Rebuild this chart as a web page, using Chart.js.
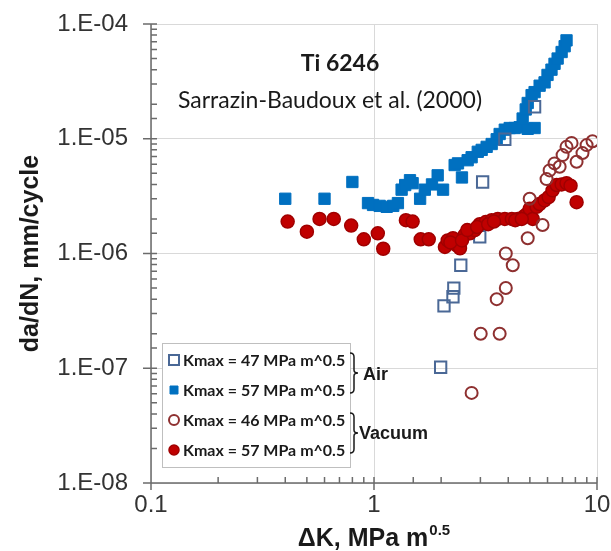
<!DOCTYPE html>
<html>
<head>
<meta charset="utf-8">
<title>Ti 6246 crack growth rate</title>
<style>
  body { margin: 0; background: #fff; }
  #chart { display: block; }
</style>
</head>
<body>
<canvas id="chart" width="611" height="551"></canvas>

<script src="https://cdn.jsdelivr.net/npm/chart.js@4.4.0/dist/chart.umd.min.js"></script>
<script>
// values: delta K (MPa m^0.5) and da/dN (mm/cycle)
const seriesNames = ['Kmax = 47 MPa m^0.5', 'Kmax = 57 MPa m^0.5', 'Kmax = 46 MPa m^0.5', 'Kmax = 57 MPa m^0.5'];
const groupNames = ['Air', 'Vacuum'];

// air, Kmax 47 (open squares)
const air47K = [1.99, 2.06, 2.26, 2.28, 2.45, 2.98, 3.07, 3.86, 5.25];
const air47Rate = [1.02e-7, 3.5e-7, 4.2e-7, 5.0e-7, 7.9e-7, 1.4e-6, 4.2e-6, 9.9e-6, 1.9e-5];

// air, Kmax 57 (filled squares)
const air57K = [0.40, 0.60, 0.80, 0.94, 0.99, 1.06, 1.14, 1.22, 1.28, 1.33, 1.38, 1.45, 1.49, 1.61, 1.69,
  1.82, 1.93, 2.04, 2.30, 2.38, 2.48, 2.63, 2.74, 2.92, 3.04, 3.20, 3.37, 3.55, 3.66, 3.86,
  4.06, 4.27, 4.50, 4.89, 5.25, 4.64, 4.79, 4.89, 5.09, 5.25, 5.53, 5.82, 6.00, 6.25, 6.45,
  6.66, 6.94, 7.16, 7.30];
const air57Rate = [3.0e-6, 3.0e-6, 4.2e-6, 2.75e-6, 2.65e-6, 2.6e-6, 2.55e-6, 2.6e-6, 2.75e-6, 3.6e-6, 3.95e-6, 4.35e-6, 4.1e-6, 3.0e-6, 3.6e-6,
  4.0e-6, 4.8e-6, 3.6e-6, 5.9e-6, 6.1e-6, 4.6e-6, 6.5e-6, 6.9e-6, 7.7e-6, 8.0e-6, 8.5e-6, 9.0e-6, 9.9e-6, 1.1e-5, 1.2e-5,
  1.24e-5, 1.24e-5, 1.26e-5, 1.22e-5, 1.24e-5, 1.5e-5, 1.8e-5, 2.05e-5, 2.4e-5, 2.55e-5, 2.9e-5, 3.1e-5, 3.6e-5, 4.0e-5, 4.5e-5,
  5.0e-5, 5.7e-5, 6.4e-5, 7.2e-5];

// vacuum, Kmax 46 (open circles)
const vac46K = [2.74, 3.01, 3.66, 3.55, 3.90, 4.19, 3.90, 4.89, 5.70, 4.99, 5.94, 6.13, 6.45, 6.80, 7.01,
  7.30, 7.69, 8.10, 8.61, 8.98, 9.55];
const vac46Rate = [6.1e-8, 2.0e-7, 2.0e-7, 4.0e-7, 5.0e-7, 7.9e-7, 1.0e-6, 1.36e-6, 1.77e-6, 3.0e-6, 4.45e-6, 5.3e-6, 6.1e-6, 5.7e-6, 7.2e-6,
  8.5e-6, 9.2e-6, 6.3e-6, 7.5e-6, 8.8e-6, 9.5e-6];

// vacuum, Kmax 57 (filled circles)
const vac57K = [0.41, 0.50, 0.57, 0.66, 0.79, 0.90, 1.04, 1.10, 1.39, 1.49, 1.62, 1.76, 2.08, 2.14, 2.26,
  2.35, 2.43, 2.55, 2.69, 2.83, 2.98, 3.17, 3.37, 3.59, 3.86, 4.15, 4.41, 4.69, 4.84, 4.99,
  5.15, 5.36, 5.53, 5.82, 6.07, 6.32, 6.59, 6.94, 7.30, 7.61, 8.10,
  2.20, 2.48, 2.62, 2.90, 3.25, 3.45, 4.30, 4.60];
const vac57Rate = [1.9e-6, 1.55e-6, 2.0e-6, 2.0e-6, 1.75e-6, 1.33e-6, 1.5e-6, 1.1e-6, 1.95e-6, 1.9e-6, 1.33e-6, 1.33e-6, 1.14e-6, 1.3e-6, 1.36e-6,
  1.18e-6, 1.11e-6, 1.45e-6, 1.5e-6, 1.6e-6, 1.8e-6, 1.88e-6, 1.95e-6, 2.0e-6, 2.0e-6, 2.0e-6, 2.0e-6, 2.1e-6, 2.2e-6, 2.45e-6,
  2.0e-6, 2.55e-6, 2.7e-6, 2.9e-6, 3.1e-6, 3.55e-6, 3.95e-6, 4.0e-6, 4.1e-6, 3.9e-6, 2.8e-6,
  1.25e-6, 1.3e-6, 1.6e-6, 1.7e-6, 1.8e-6, 1.9e-6, 1.95e-6, 2.0e-6];

const xTickValues = [0.1, 1, 10];
const xTickLabels = ['0.1', '1', '10'];
const yTickValues = [1e-8, 1e-7, 1e-6, 1e-5, 1e-4];
const yTickLabels = ['1.E-08', '1.E-07', '1.E-06', '1.E-05', '1.E-04'];

function pairs(xs, ys) {
  return xs.map((v, i) => ({x: v, y: ys[i]}));
}
function isDecade(v) {
  const l = Math.log10(v);
  return Math.abs(l - Math.round(l)) < 1e-9;
}
function labelFor(v, values, labels) {
  const i = values.findIndex(t => Math.abs(Math.log10(t) - Math.log10(v)) < 1e-9);
  return i < 0 ? '' : labels[i];
}

const blue = '#0070c0';
const red = '#c00000';
const openBlue = '#4a6896';
const openRed = '#8e3030';
const tickFont = {family: '"Liberation Sans", Arial, sans-serif', size: 24};
const gridColor = c => (c.tick && isDecade(c.tick.value)) ? '#d9d9d9' : 'rgba(0,0,0,0)';

// axis lines, tick marks, titles, notes and the boxed legend
const decorations = {
  id: 'decorations',
  afterDraw(chart) {
    const ctx = chart.ctx;
    const a = chart.chartArea;
    const xs = chart.scales.x, ys = chart.scales.y;
    ctx.save();

    ctx.strokeStyle = '#6b6b6b';
    ctx.lineWidth = 1.5;
    ctx.beginPath();
    ctx.moveTo(a.left, a.top);
    ctx.lineTo(a.left, a.bottom);
    ctx.lineTo(a.right, a.bottom);
    ys.ticks.forEach(t => {
      const py = ys.getPixelForValue(t.value);
      ctx.moveTo(a.left - (isDecade(t.value) ? 8 : 0), py);
      ctx.lineTo(a.left + 6, py);
    });
    xs.ticks.forEach(t => {
      const px = xs.getPixelForValue(t.value);
      ctx.moveTo(px, a.bottom + (isDecade(t.value) ? 7 : 0));
      ctx.lineTo(px, a.bottom - 6);
    });
    ctx.stroke();

    // axis titles
    ctx.fillStyle = '#1a1a1a';
    ctx.font = 'bold 25px "Liberation Sans", Arial, sans-serif';
    ctx.textBaseline = 'alphabetic';
    ctx.save();
    ctx.translate(38, (a.top + a.bottom) / 2);
    ctx.rotate(-Math.PI / 2);
    ctx.textAlign = 'center';
    ctx.fillText('da/dN, mm/cycle', 0, 0);
    ctx.restore();

    const mainPart = '\u0394K, MPa m';
    const supPart = '0.5';
    ctx.font = 'bold 25px "Liberation Sans", Arial, sans-serif';
    const w1 = ctx.measureText(mainPart).width;
    ctx.font = 'bold 15px "Liberation Sans", Arial, sans-serif';
    const w2 = ctx.measureText(supPart).width;
    const sx = (a.left + a.right) / 2 - (w1 + w2 + 1) / 2;
    ctx.textAlign = 'left';
    ctx.font = 'bold 25px "Liberation Sans", Arial, sans-serif';
    ctx.fillText(mainPart, sx, 546);
    ctx.font = 'bold 15px "Liberation Sans", Arial, sans-serif';
    ctx.fillText(supPart, sx + w1 + 1, 535);

    // notes inside the plot
    ctx.textAlign = 'center';
    ctx.font = 'bold 23px Lato, "Open Sans", sans-serif';
    ctx.fillText('Ti 6246', a.left + 189, a.top + 47);
    ctx.font = '23px Lato, "Open Sans", sans-serif';
    ctx.fillText('Sarrazin-Baudoux et al. (2000)', a.left + 179, a.top + 84);

    // legend box
    const bx = a.left + 11, by = a.bottom - 140, bw = 188, bh = 124;
    ctx.fillStyle = '#fff';
    ctx.fillRect(bx, by, bw, bh);
    ctx.strokeStyle = '#bfbfbf';
    ctx.lineWidth = 1;
    ctx.strokeRect(bx + 0.5, by + 0.5, bw, bh);

    const ds = chart.data.datasets;
    ds.forEach((d, i) => {
      const cy = by + 17 + 30 * i;
      const mx = bx + 12;
      ctx.beginPath();
      if (d.pointStyle === 'rect') {
        const s = d.backgroundColor === blue ? 8 : 10;
        ctx.rect(mx - s / 2, cy - s / 2, s, s);
      } else {
        ctx.arc(mx, cy, 5, 0, Math.PI * 2);
      }
      ctx.fillStyle = d.backgroundColor;
      ctx.fill();
      ctx.lineWidth = d.borderWidth;
      ctx.strokeStyle = d.borderColor;
      ctx.stroke();

      ctx.fillStyle = '#1a1a1a';
      ctx.font = 'bold 16px Lato, "Open Sans", sans-serif';
      ctx.textAlign = 'left';
      ctx.textBaseline = 'middle';
      ctx.fillText(d.label, bx + 21, cy + 1);
    });

    // braces grouping the legend entries
    function brace(x, y1, y2) {
      const m = (y1 + y2) / 2;
      ctx.beginPath();
      ctx.moveTo(x - 4, y1);
      ctx.quadraticCurveTo(x, y1, x, y1 + 4);
      ctx.lineTo(x, m - 3);
      ctx.quadraticCurveTo(x, m, x + 4, m);
      ctx.quadraticCurveTo(x, m, x, m + 3);
      ctx.lineTo(x, y2 - 4);
      ctx.quadraticCurveTo(x, y2, x - 4, y2);
      ctx.stroke();
    }
    ctx.strokeStyle = '#1a1a1a';
    ctx.lineWidth = 1.5;
    const gx = bx + bw + 4;
    brace(gx, by + 10, by + 50);
    brace(gx, by + 70, by + 110);
    ctx.fillStyle = '#1a1a1a';
    ctx.font = 'bold 18px "Liberation Sans", Arial, sans-serif';
    ctx.textAlign = 'left';
    ctx.textBaseline = 'middle';
    ctx.fillText(groupNames[0], gx + 9, by + 32);
    ctx.fillText(groupNames[1], gx + 5, by + 91);

    ctx.restore();
  }
};

// drop the label overhang padding so the plot box sits where the figure has it
function noOverhang(s) {
  s.paddingLeft = 0;
  s.paddingRight = 0;
  s.paddingTop = 0;
  s.paddingBottom = 0;
}

new Chart(document.getElementById('chart'), {
  type: 'scatter',
  data: {
    datasets: [
      {
        label: seriesNames[0], data: pairs(air47K, air47Rate), order: 3,
        pointStyle: 'rect', pointRadius: 8, backgroundColor: 'rgba(255,255,255,0)',
        borderColor: openBlue, borderWidth: 2
      },
      {
        label: seriesNames[1], data: pairs(air57K, air57Rate), order: 4,
        pointStyle: 'rect', pointRadius: 8, backgroundColor: blue,
        borderColor: blue, borderWidth: 1
      },
      {
        label: seriesNames[2], data: pairs(vac46K, vac46Rate), order: 1,
        pointStyle: 'circle', pointRadius: 6, backgroundColor: 'rgba(255,255,255,0)',
        borderColor: openRed, borderWidth: 2
      },
      {
        label: seriesNames[3], data: pairs(vac57K, vac57Rate), order: 2,
        pointStyle: 'circle', pointRadius: 6.5, backgroundColor: red,
        borderColor: '#a00000', borderWidth: 1.5
      }
    ]
  },
  options: {
    responsive: false,
    animation: false,
    events: [],
    layout: {padding: {left: 0, right: 14, top: 24, bottom: 0}},
    plugins: {legend: {display: false}, tooltip: {enabled: false}},
    scales: {
      x: {
        type: 'logarithmic', min: 0.1, max: 10,
        afterFit: s => { s.height = 68; noOverhang(s); },
        border: {display: false},
        grid: {color: gridColor, drawTicks: false},
        ticks: {
          autoSkip: false, maxRotation: 0, padding: 8, color: '#333', font: tickFont,
          callback: v => labelFor(v, xTickValues, xTickLabels)
        }
      },
      y: {
        type: 'logarithmic', min: 1e-8, max: 1e-4,
        afterFit: s => { s.width = 151; noOverhang(s); },
        border: {display: false},
        grid: {color: gridColor, drawTicks: false},
        ticks: {
          autoSkip: false, padding: 23, color: '#333', font: tickFont,
          callback: v => labelFor(v, yTickValues, yTickLabels)
        }
      }
    }
  },
  plugins: [decorations]
});
</script>
</body>
</html>
